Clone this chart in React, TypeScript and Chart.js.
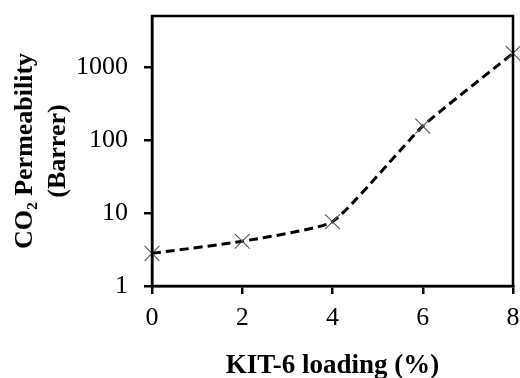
import React, { useEffect, useRef } from "react";
import { Chart, registerables } from "chart.js";

Chart.register(...registerables);

const loading = [0, 2, 4, 6, 8];
const permeability = [2.8, 4.1, 7.6, 155, 1540];
const yTickValues = [1, 10, 100, 1000];
const xTitle = "KIT-6 loading (%)";
const yTitle = ["CO\u2082 Permeability", "(Barrer)"];

const SERIF = "'Liberation Serif', 'Times New Roman', serif";

const framePlugin = {
  id: "frame",
  afterDatasetsDraw(chart: any) {
    const { ctx, chartArea } = chart;
    ctx.save();
    ctx.strokeStyle = "#000";
    ctx.lineWidth = 2.5;
    ctx.strokeRect(chartArea.left, chartArea.top, chartArea.right - chartArea.left, chartArea.bottom - chartArea.top);
    ctx.restore();
  },
};

export default function App() {
  const ref = useRef<HTMLCanvasElement>(null);
  useEffect(() => {
    document.body.style.margin = "0";
    const chart = new Chart(ref.current!, {
      type: "line",
      data: {
        datasets: [
          {
            data: loading.map((x, i) => ({ x, y: permeability[i] })),
            borderColor: "#000",
            borderWidth: 3,
            borderDash: [9, 5],
            tension: 0.15,
            pointStyle: "crossRot",
            pointRadius: 10.5,
            pointBorderWidth: 1.1,
            pointBorderColor: "#555",
            pointBackgroundColor: "#555",
            fill: false,
            clip: false,
          },
        ],
      },
      options: {
        animation: false,
        responsive: false,
        maintainAspectRatio: false,
        events: [],
        layout: { autoPadding: false, padding: { top: 16, right: 7, left: 0, bottom: 0 } },
        plugins: { legend: { display: false }, tooltip: { enabled: false } },
        scales: {
          x: {
            type: "linear",
            min: 0,
            max: 8,
            afterFit(scale: any) {
              scale.height = 92;
              scale.paddingLeft = 0;
              scale.paddingRight = 0;
            },
            ticks: {
              stepSize: 2,
              color: "#000",
              padding: 9,
              maxRotation: 0,
              font: { family: SERIF, size: 26 },
            },
            grid: { drawOnChartArea: false, drawTicks: true, tickLength: 8, color: "#000", lineWidth: 2.5 },
            border: { color: "#000", width: 2.5 },
            title: {
              display: true,
              text: xTitle,
              color: "#000",
              padding: { top: 0, bottom: 0 },
              font: { family: SERIF, size: 27, weight: "bold", lineHeight: 0.9 },
            },
          },
          y: {
            type: "logarithmic",
            min: 1,
            max: 5000,
            afterFit(scale: any) {
              scale.width = 152;
              scale.paddingTop = 0;
              scale.paddingBottom = 0;
            },
            afterBuildTicks(scale: any) {
              scale.ticks = yTickValues.map((v) => ({ value: v }));
            },
            ticks: {
              color: "#000",
              padding: 16,
              callback: (v: any) => String(v),
              font: { family: SERIF, size: 26 },
            },
            grid: { drawOnChartArea: false, drawTicks: true, tickLength: 8, color: "#000", lineWidth: 2.5 },
            border: { color: "#000", width: 2.5 },
            title: {
              display: true,
              text: yTitle,
              color: "#000",
              padding: { top: 8.5, bottom: 0 },
              font: { family: SERIF, size: 26, weight: "bold", lineHeight: 1.27 },
            },
          },
        },
      },
      plugins: [framePlugin],
    });
    return () => chart.destroy();
  }, []);
  return (
    <div style={{ position: "absolute", left: 0, top: 0, width: 520, height: 378, background: "#fff" }}>
      <canvas ref={ref} width={520} height={378} style={{ width: 520, height: 378, display: "block" }} />
    </div>
  );
}
